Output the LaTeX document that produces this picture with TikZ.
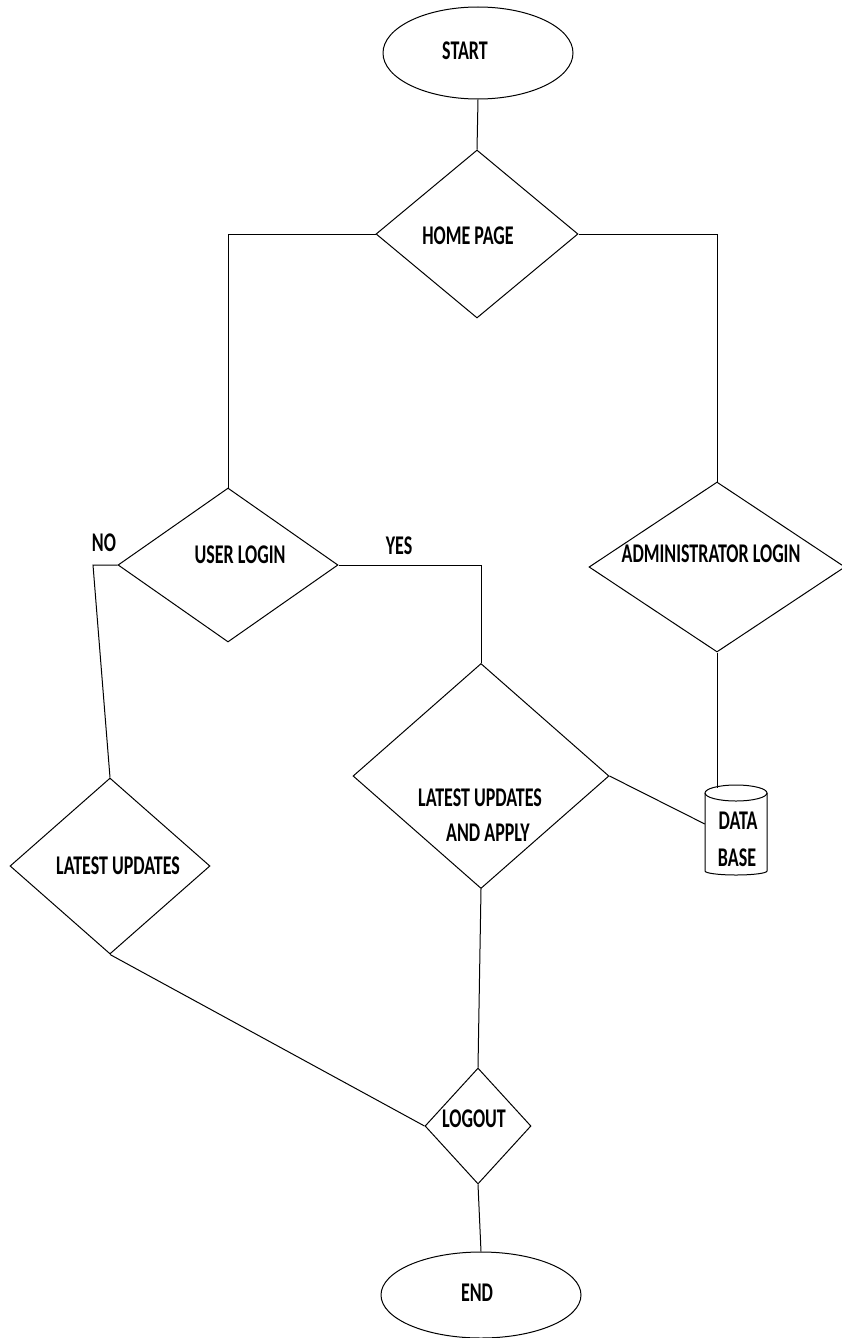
\documentclass[tikz,border=0pt]{standalone}
\usepackage{fontspec}
\usepackage{graphicx}
\setmainfont{Carlito}
\usetikzlibrary{shapes.geometric}
\newcommand\tx[1]{\scalebox{1}[1.5]{#1}}
\begin{document}
\begin{tikzpicture}[x=1pt,y=1pt,
  shp/.style={draw, line width=1pt, inner sep=0pt},
  dia/.style={shp, diamond},
  ell/.style={shp, ellipse},
  lbl/.style={font=\bfseries\fontsize{18}{20}\selectfont, inner sep=0pt},
  con/.style={line width=1pt}]
\useasboundingbox (0,0) rectangle (842,-1338);
\fill[white] (0,0) rectangle (842,-1338);
% shapes
\node[ell, minimum width=190, minimum height=92] (start) at (478,-53) {};
\node[dia, minimum width=202, minimum height=168] (home) at (477,-234) {};
\node[dia, minimum width=220, minimum height=154] (user) at (228,-565) {};
\node[dia, minimum width=256, minimum height=170] (admin) at (717,-567) {};
\node[dia, minimum width=256, minimum height=225] (apply) at (481,-776) {};
\node[dia, minimum width=200, minimum height=176] (latest) at (110,-866) {};
\node[dia, minimum width=106, minimum height=116] (logout) at (478,-1126) {};
\node[ell, minimum width=200, minimum height=86] (end) at (481,-1295) {};
\node[minimum width=62, minimum height=90, inner sep=0pt] (db) at (736,-830) {};
\draw[con] (736,-793) ellipse [x radius=31, y radius=8];
\draw[con] (705,-793) -- (705,-871) arc[start angle=180, end angle=360, x radius=31, y radius=4] -- (767,-793);
% texts
\node[lbl] (startt) at (465,-51) {\tx{START}};
\node[lbl] (homet) at (468,-236) {\tx{HOME PAGE}};
\node[lbl] (usert) at (240,-555) {\tx{USER LOGIN}};
\node[lbl] (adment) at (711,-554) {\tx{ADMINISTRATOR LOGIN}};
\node[lbl] (nolbl) at (104,-543) {\tx{NO}};
\node[lbl] (yeslbl) at (399,-546) {\tx{YES}};
\node[lbl] (applyt1) at (480,-798) {\tx{LATEST UPDATES}};
\node[lbl] (applyt2) at (488,-833) {\tx{AND APPLY}};
\node[lbl] (latestt) at (118,-866) {\tx{LATEST UPDATES}};
\node[lbl] (dbt1) at (738,-821) {\tx{DATA}};
\node[lbl] (dbt2) at (737,-858) {\tx{BASE}};
\node[lbl] (logoutt) at (474,-1119) {\tx{LOGOUT}};
\node[lbl] (endt) at (477,-1293) {\tx{END}};
% connectors
\coordinate (nocorner) at (93,-565);
\draw[con] (start.south) -- (home.north);
\draw[con] (home.west) -| (user.north);
\draw[con] (home.east) -| (admin.north);
\draw[con] (user.west) -- (nocorner) -- (latest.north);
\draw[con] (user.east) -| (apply.north);
\draw[con] (admin.south) -- ([yshift=-3pt]admin.south |- db.north);
\draw[con] (apply.east) -- ([yshift=6pt]db.west);
\draw[con] (latest.south) -- (logout.west);
\draw[con] (apply.south) -- (logout.north);
\draw[con] (logout.south) -- (end.north);
\end{tikzpicture}
\end{document}
